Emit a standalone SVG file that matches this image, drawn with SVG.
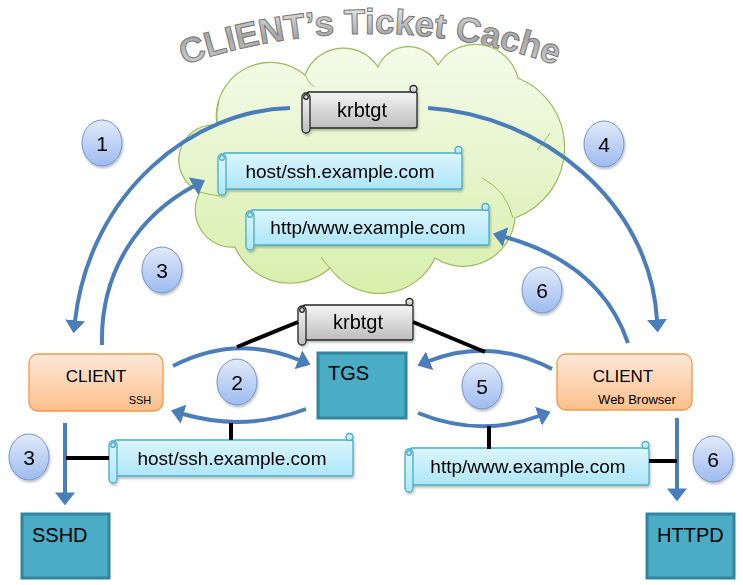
<svg xmlns="http://www.w3.org/2000/svg" width="743" height="585" viewBox="0 0 743 585">
<defs>
<style>
text{font-family:"Liberation Sans",Arial,sans-serif;fill:#000}
.title{font-weight:bold;font-size:35px;fill:url(#gTitle);stroke:#7a7a7a;stroke-width:1}
.cloud{fill:url(#gCloud);stroke:#9bbb59;stroke-width:1.2}
.cin{fill:none;stroke:#9bbb59;stroke-width:1}
.sb{fill:url(#gBlue);stroke:#4bacc6;stroke-width:1.3}
.sg{fill:url(#gGray);stroke:#262626;stroke-width:1.3}
.st{font-size:19px;text-anchor:middle}
.kt{font-size:20px;text-anchor:middle}
.client{fill:url(#gOrange);stroke:#f79646;stroke-width:1.3}
.srv{fill:#4bacc6;stroke:#31859c;stroke-width:3}
.srvt{font-size:20px}
.num{fill:url(#gNum);stroke:#6f93cf;stroke-width:1}
.numt{font-size:21px;text-anchor:middle}
.arc{fill:none;stroke:#4a7ebb;stroke-width:4;marker-end:url(#ah)}
.blk{fill:none;stroke:#000;stroke-width:4}
</style>
<linearGradient id="gTitle" x1="0" y1="0" x2="0" y2="1">
<stop offset="0" stop-color="#f2f2f2"/><stop offset="0.5" stop-color="#a6a6a6"/><stop offset="1" stop-color="#d9d9d9"/>
</linearGradient>
<linearGradient id="gCloud" x1="0" y1="0" x2="0" y2="1">
<stop offset="0" stop-color="#f4fbea"/><stop offset="1" stop-color="#d8efac"/>
</linearGradient>
<linearGradient id="gBlue" x1="0" y1="0" x2="0" y2="1">
<stop offset="0" stop-color="#dcf6fd"/><stop offset="1" stop-color="#ade6f8"/>
</linearGradient>
<linearGradient id="gGray" x1="0" y1="0" x2="0" y2="1">
<stop offset="0" stop-color="#f5f5f5"/><stop offset="1" stop-color="#bdbdbd"/>
</linearGradient>
<linearGradient id="gOrange" x1="0" y1="0" x2="0" y2="1">
<stop offset="0" stop-color="#fde9da"/><stop offset="1" stop-color="#fbbf8b"/>
</linearGradient>
<linearGradient id="gNum" x1="0" y1="0" x2="0" y2="1">
<stop offset="0" stop-color="#e1eaf9"/><stop offset="1" stop-color="#9dbbf0"/>
</linearGradient>
<filter id="sh" x="-20%" y="-20%" width="140%" height="150%">
<feDropShadow dx="1" dy="2" stdDeviation="1.3" flood-color="#000" flood-opacity="0.25"/>
</filter>
<marker id="ah" viewBox="0 0 6.5 10" refX="0.3" refY="5" markerWidth="3.25" markerHeight="5" orient="auto" markerUnits="strokeWidth">
<path d="M0,0 L6.5,5 L0,10 Z" fill="#4a7ebb"/>
</marker>
<path id="titleArc" d="M 160 74 A 567 567 0 0 1 580 74"/>
</defs>

<g id="title">
<text class="title"><textPath href="#titleArc" startOffset="50%" text-anchor="middle">CLIENT’s Ticket Cache</textPath></text>
</g>

<g id="ticket-cache">
<path class="cloud" d="M200,192 A35,35 0 0 1 217,125 A54,54 0 0 1 305,75 A41,41 0 0 1 378,67 A33,33 0 0 1 438,65 A44,44 0 0 1 518,78 A75,75 0 0 1 515,218 A52,52 0 0 1 435,258 A61,61 0 0 1 330,268 A60,60 0 0 1 235,247 A37,37 0 0 1 200,192 Z"/>
<path class="cin" d="M217,125 Q216,112 219,101"/>
<path class="cin" d="M305,75 Q308,82 314,87"/>
<path class="cin" d="M482,178 Q506,190 513,218"/>
<path class="cin" d="M537,150 Q544,142 550,133"/>
<path class="cin" d="M330,268 Q324,262 321,257"/>
<path class="cin" d="M200,192 Q210,195 220,196"/>
</g>

<g id="cache-krbtgt" filter="url(#sh)">
<rect class="sg" x="307" y="92" width="110" height="36" rx="2"/>
<circle class="sg" cx="413.5" cy="89" r="3.5"/>
<rect class="sg" x="302" y="93" width="8" height="40" rx="4"/>
<circle class="sg" cx="306" cy="97" r="2.3"/>
<text class="kt" x="362" y="117">krbtgt</text>
</g>

<g id="cache-host-ssh" filter="url(#sh)">
<rect class="sb" x="223" y="153" width="239" height="36" rx="2"/>
<circle class="sb" cx="458.5" cy="150" r="3.5"/>
<rect class="sb" x="218" y="154" width="8" height="41" rx="4"/>
<circle class="sb" cx="222" cy="158" r="2.3"/>
<text class="st" x="340" y="178">host/ssh.example.com</text>
</g>

<g id="cache-http-www" filter="url(#sh)">
<rect class="sb" x="251" y="210" width="238" height="35" rx="2"/>
<circle class="sb" cx="485.5" cy="207" r="3.5"/>
<rect class="sb" x="246" y="211" width="8" height="39" rx="4"/>
<circle class="sb" cx="250" cy="215" r="2.3"/>
<text class="st" x="368" y="234">http/www.example.com</text>
</g>

<g id="tgt-krbtgt" filter="url(#sh)">
<rect class="sg" x="303" y="305" width="110" height="35" rx="2"/>
<circle class="sg" cx="409.5" cy="302" r="3.5"/>
<rect class="sg" x="298" y="306" width="8" height="39" rx="4"/>
<circle class="sg" cx="302" cy="310" r="2.3"/>
<text class="kt" x="358" y="329">krbtgt</text>
</g>

<g id="tkt-host-ssh" filter="url(#sh)">
<rect class="sb" x="114" y="440" width="239" height="36" rx="2"/>
<circle class="sb" cx="349.5" cy="437" r="3.5"/>
<rect class="sb" x="109" y="441" width="8" height="42" rx="4"/>
<circle class="sb" cx="113" cy="445" r="2.3"/>
<text class="st" x="232" y="465">host/ssh.example.com</text>
</g>

<g id="tkt-http-www" filter="url(#sh)">
<rect class="sb" x="410" y="448" width="239" height="37" rx="2"/>
<circle class="sb" cx="645.5" cy="445" r="3.5"/>
<rect class="sb" x="405" y="449" width="8" height="43" rx="4"/>
<circle class="sb" cx="409" cy="453" r="2.3"/>
<text class="st" x="528" y="473">http/www.example.com</text>
</g>

<g id="client-ssh">
<rect class="client" x="29" y="354" width="134" height="57" rx="9"/>
<text x="96" y="382" font-size="17" text-anchor="middle">CLIENT</text>
<text x="140" y="404" font-size="11" text-anchor="middle">SSH</text>
</g>

<g id="client-web">
<rect class="client" x="557" y="354" width="135" height="56" rx="9"/>
<text x="623" y="382" font-size="17" text-anchor="middle">CLIENT</text>
<text x="637" y="404" font-size="13" text-anchor="middle">Web Browser</text>
</g>

<g id="tgs">
<rect class="srv" x="318" y="353" width="88" height="65"/>
<text class="srvt" x="328" y="380">TGS</text>
</g>

<g id="sshd">
<rect class="srv" x="22" y="514" width="87" height="64"/>
<text class="srvt" x="32" y="542">SSHD</text>
</g>

<g id="httpd">
<rect class="srv" x="647" y="514" width="87" height="64"/>
<text class="srvt" x="657" y="542">HTTPD</text>
</g>

<g id="connectors">
<path class="arc" d="M290,108 C195,110 90,190 75,321"/>
<path class="arc" d="M102,345 C100,270 140,215 194,186"/>
<path class="arc" d="M428,108 C540,115 650,200 657,320"/>
<path class="arc" d="M628,343 C610,290 570,255 505,237"/>
<path class="arc" d="M173,366 Q236,334 299,360"/>
<path class="arc" d="M306,409 Q245,432 183,414"/>
<path class="arc" d="M552,369 Q490,337 429,361"/>
<path class="arc" d="M418,413 Q480,438 539,416"/>
<path class="arc" d="M65,423 L65,493"/>
<path class="arc" d="M677,418 L677,489"/>
<path class="blk" d="M298,322 L237,347"/>
<path class="blk" d="M413,322 L485,352"/>
<path class="blk" d="M66,458 L109,458"/>
<path class="blk" d="M231,423 L231,440"/>
<path class="blk" d="M649,461 L677,461"/>
<path class="blk" d="M489,426 L489,449"/>
</g>

<g id="steps" filter="url(#sh)">
<g id="step1"><ellipse class="num" cx="102" cy="143" rx="20" ry="23"/><text class="numt" x="102" y="151">1</text></g>
<g id="step3a"><ellipse class="num" cx="162" cy="270" rx="20" ry="23"/><text class="numt" x="162" y="278">3</text></g>
<g id="step4"><ellipse class="num" cx="604" cy="144" rx="20" ry="23"/><text class="numt" x="604" y="152">4</text></g>
<g id="step6a"><ellipse class="num" cx="542" cy="290" rx="20" ry="23"/><text class="numt" x="542" y="298">6</text></g>
<g id="step2"><ellipse class="num" cx="237" cy="382" rx="20" ry="23"/><text class="numt" x="237" y="390">2</text></g>
<g id="step5"><ellipse class="num" cx="482" cy="386" rx="20" ry="23"/><text class="numt" x="482" y="394">5</text></g>
<g id="step3b"><ellipse class="num" cx="29" cy="457" rx="20" ry="23"/><text class="numt" x="29" y="465">3</text></g>
<g id="step6b"><ellipse class="num" cx="713" cy="459" rx="20" ry="23"/><text class="numt" x="713" y="467">6</text></g>
</g>
</svg>
